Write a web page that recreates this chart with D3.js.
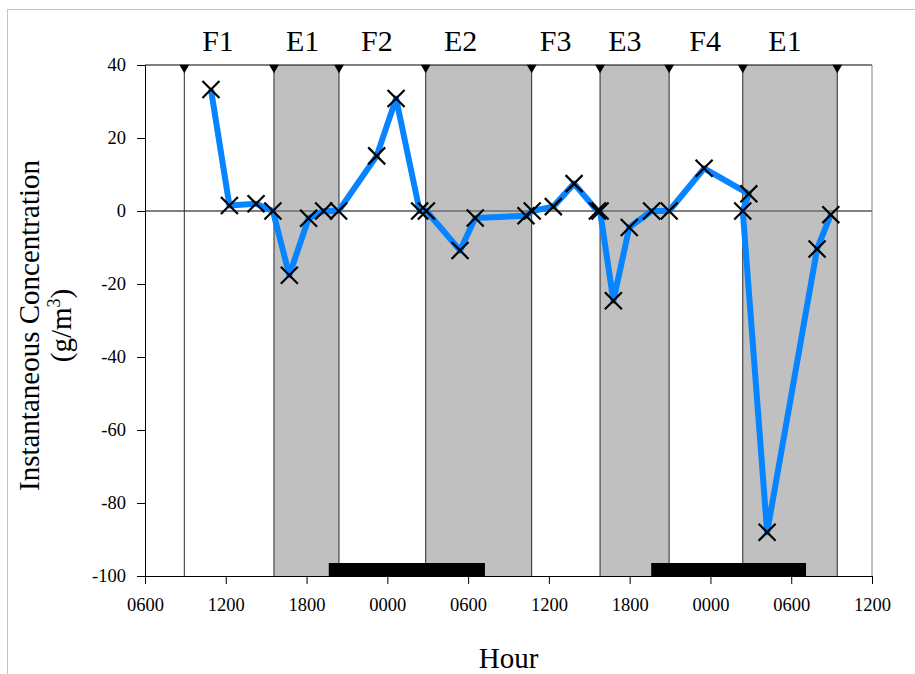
<!DOCTYPE html>
<html>
<head>
<meta charset="utf-8">
<script src="https://cdn.jsdelivr.net/npm/d3@7"></script>
<style>
  html, body { margin: 0; padding: 0; background: #fff; }
  svg { display: block; font-family: "Liberation Serif", "Times New Roman", serif; }
</style>
</head>
<body>
<svg id="chart" width="915" height="674"></svg>
<script>
// Sampling times, in hours after 0600 on the first day
const hours = [4.90, 6.27, 8.25, 9.50, 10.72, 12.15, 13.27, 14.38, 17.21, 18.65,
               20.40, 20.90, 23.40, 24.53, 28.30, 28.76, 30.33, 31.87, 33.60, 33.80,
               34.79, 35.97, 37.63, 38.93, 41.53, 44.85, 44.40, 46.21, 49.92, 50.94];
// Instantaneous concentration at each sample (g/m3)
const concentration = [33.3, 1.5, 2.0, 0.0, -17.6, -2.0, 0.0, 0.0, 15.1, 30.8,
                       0.0, 0.0, -10.8, -1.9, -1.3, 0.0, 1.2, 7.5, 0.0, 0.0,
                       -24.6, -4.5, 0.0, 0.0, 11.7, 4.7, 0.0, -88.0, -10.4, -1.0];

// Phase boundaries (hours) and the phases between them
const boundaries = [2.92, 9.58, 14.41, 20.85, 28.72, 33.80, 38.93, 44.40, 51.42];
const phaseNames = ["F1", "E1", "F2", "E2", "F3", "E3", "F4", "E1"];
const phaseLabelHours = [5.42, 11.71, 17.23, 23.45, 30.50, 35.65, 41.60, 47.54];
// Shaded (E) phases: start and end hour
const shadedStart = [9.58, 20.85, 33.80, 44.40];
const shadedEnd = [14.41, 28.72, 38.93, 51.42];
// Night-time periods shown as black bars on the axis
const nightStart = [13.65, 37.60];
const nightEnd = [25.25, 49.10];

// Axis ticks
const xTickHours = [0, 6, 12, 18, 24, 30, 36, 42, 48, 54];
const xTickLabels = ["0600", "1200", "1800", "0000", "0600", "1200", "1800", "0000", "0600", "1200"];
const yTicks = [40, 20, 0, -20, -40, -60, -80, -100];

const svg = d3.select("#chart");
const margin = { left: 145, right: 43, top: 65, bottom: 98 };
const W = 915, H = 674;
const x = d3.scaleLinear().domain([0, 54]).range([margin.left, W - margin.right]);
const y = d3.scaleLinear().domain([-100, 40]).range([H - margin.bottom, margin.top]);

// Outer chart frame
svg.append("rect")
  .attr("x", 7.5).attr("y", 9.5).attr("width", 920).attr("height", 700)
  .attr("fill", "none").attr("stroke", "#c4c4c4").attr("stroke-width", 1);

// Shaded phases
svg.append("g").selectAll("rect")
  .data(shadedStart.map((s, i) => [s, shadedEnd[i]]))
  .join("rect")
  .attr("x", d => x(d[0]))
  .attr("y", y(40))
  .attr("width", d => x(d[1]) - x(d[0]))
  .attr("height", y(-100) - y(40))
  .attr("fill", "#c0c0c0");

// Zero reference line
svg.append("line")
  .attr("x1", x(0)).attr("x2", x(54))
  .attr("y1", y(0)).attr("y2", y(0))
  .attr("stroke", "#808080").attr("stroke-width", 2);

// Phase boundary lines
svg.append("g").selectAll("line")
  .data(boundaries)
  .join("line")
  .attr("x1", d => x(d)).attr("x2", d => x(d))
  .attr("y1", y(40)).attr("y2", y(-100))
  .attr("stroke", "#2a2a2a").attr("stroke-width", 1);

// Top and right frame of the plot area
svg.append("line")
  .attr("x1", x(0)).attr("x2", x(54)).attr("y1", y(40)).attr("y2", y(40))
  .attr("stroke", "#000").attr("stroke-width", 1);
svg.append("line")
  .attr("x1", x(54)).attr("x2", x(54)).attr("y1", y(40)).attr("y2", y(-100))
  .attr("stroke", "#808080").attr("stroke-width", 1);

// Night bars
svg.append("g").selectAll("rect")
  .data(nightStart.map((s, i) => [s, nightEnd[i]]))
  .join("rect")
  .attr("x", d => x(d[0]))
  .attr("y", y(-100) - 13)
  .attr("width", d => x(d[1]) - x(d[0]))
  .attr("height", 14)
  .attr("fill", "#000");

// Boundary markers along the top edge
svg.append("g").selectAll("path")
  .data(boundaries)
  .join("path")
  .attr("d", d3.symbol(d3.symbolTriangle, 42))
  .attr("transform", d => `translate(${x(d)},${y(40) + 2.5}) rotate(180)`)
  .attr("fill", "#000");

// Phase names
svg.append("g").selectAll("text")
  .data(phaseNames)
  .join("text")
  .attr("x", (d, i) => x(phaseLabelHours[i]))
  .attr("y", 51)
  .attr("text-anchor", "middle")
  .attr("font-size", 30)
  .attr("fill", "#000")
  .text(d => d);

// Y axis (plain hyphen for negative numbers)
const yAxis = svg.append("g")
  .attr("transform", `translate(${x(0)},0)`)
  .call(d3.axisLeft(y).tickValues(yTicks).tickSize(8).tickPadding(11).tickFormat(d => String(d)));
yAxis.select(".domain").attr("stroke", "#000");
yAxis.selectAll(".tick line").attr("stroke", "#000");
yAxis.selectAll(".tick text")
  .attr("font-family", "Liberation Serif, Times New Roman, serif")
  .attr("font-size", 18.5).attr("fill", "#000");

// X axis
const xAxis = svg.append("g")
  .attr("transform", `translate(0,${y(-100)})`)
  .call(d3.axisBottom(x).tickValues(xTickHours).tickSize(8).tickPadding(14)
    .tickFormat((d, i) => xTickLabels[i]));
xAxis.select(".domain").attr("stroke", "#000");
xAxis.selectAll(".tick line").attr("stroke", "#000");
xAxis.selectAll(".tick text")
  .attr("font-family", "Liberation Serif, Times New Roman, serif")
  .attr("font-size", 18.5).attr("fill", "#000");

// Concentration series
const pts = hours.map((h, i) => [h, concentration[i]]);
svg.append("path")
  .datum(pts)
  .attr("d", d3.line().x(d => x(d[0])).y(d => y(d[1])))
  .attr("fill", "none")
  .attr("stroke", "#0784ff")
  .attr("stroke-width", 6)
  .attr("stroke-linejoin", "round");

// Cross markers
svg.append("g").selectAll("path")
  .data(pts)
  .join("path")
  .attr("d", d3.symbol(d3.symbolTimes, 190))
  .attr("transform", d => `translate(${x(d[0])},${y(d[1])})`)
  .attr("fill", "none")
  .attr("stroke", "#000")
  .attr("stroke-width", 2.2);

// Axis titles
svg.append("text")
  .attr("x", (x(0) + x(54)) / 2)
  .attr("y", 668)
  .attr("text-anchor", "middle")
  .attr("font-size", 29)
  .attr("fill", "#000")
  .text("Hour");

const yTitle = svg.append("text")
  .attr("transform", `translate(39,${(y(40) + y(-100)) / 2 + 5}) rotate(-90)`)
  .attr("text-anchor", "middle")
  .attr("font-size", 29)
  .attr("fill", "#000");
yTitle.append("tspan").attr("x", 0).attr("dy", 0).text("Instantaneous Concentration");
const unit = yTitle.append("tspan").attr("x", 0).attr("dy", 32);
unit.append("tspan").text("(g/m");
unit.append("tspan").attr("font-size", 18).attr("dy", -11).text("3");
unit.append("tspan").attr("dy", 11).text(")");
</script>
</body>
</html>
